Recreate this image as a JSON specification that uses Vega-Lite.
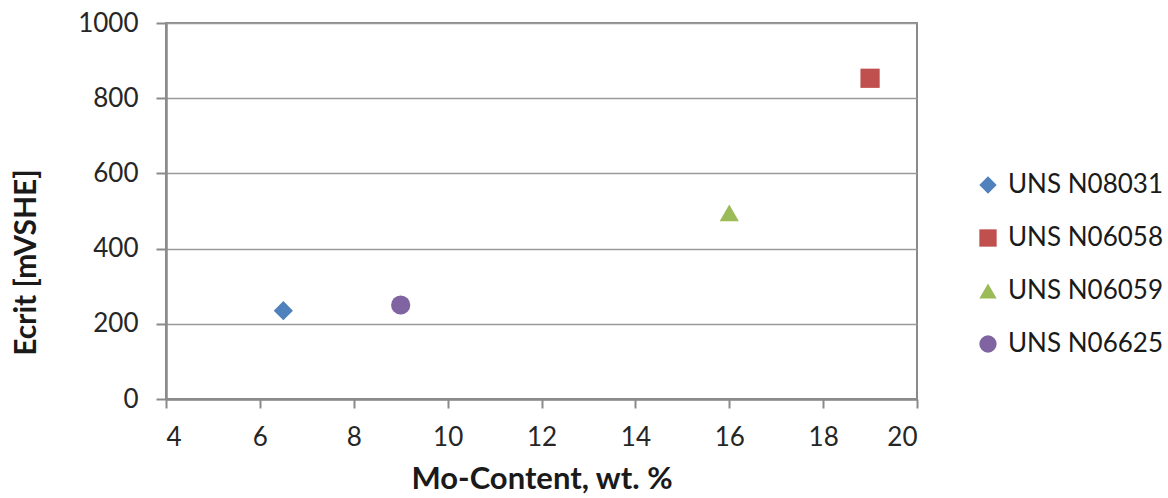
{
  "$schema": "https://vega.github.io/schema/vega-lite/v6.json",
  "width": 751,
  "height": 376,
  "autosize": {"type": "none"},
  "padding": {"left": 166, "top": 23, "right": 251, "bottom": 99},
  "background": "white",
  "config": {
    "font": "Lato",
    "view": {"stroke": "#8a8a8a", "strokeWidth": 2},
    "axis": {
      "labelFont": "Lato",
      "labelFontSize": 26,
      "labelColor": "#262626",
      "titleFont": "Lato",
      "titleFontSize": 30,
      "titleFontWeight": "bold",
      "titleColor": "#1a1a1a",
      "domainColor": "#8a8a8a",
      "domainWidth": 2.5,
      "tickColor": "#8a8a8a",
      "tickWidth": 2,
      "gridColor": "#9a9a9a",
      "gridWidth": 1.6
    },
    "legend": {
      "labelFont": "Lato",
      "labelFontSize": 26,
      "labelColor": "#1a1a1a"
    }
  },
  "data": {
    "values": [
      {"alloy": "UNS N08031", "mo": 6.5, "ecrit": 235},
      {"alloy": "UNS N06058", "mo": 19, "ecrit": 853},
      {"alloy": "UNS N06059", "mo": 16, "ecrit": 495},
      {"alloy": "UNS N06625", "mo": 9, "ecrit": 250}
    ]
  },
  "mark": {"type": "point", "filled": true, "opacity": 1, "size": 370},
  "encoding": {
    "x": {
      "field": "mo",
      "type": "quantitative",
      "scale": {"domain": [4, 20], "nice": false, "zero": false},
      "axis": {
        "title": "Mo-Content, wt. %",
        "titleFontSize": 31,
        "values": [4, 6, 8, 10, 12, 14, 16, 18, 20],
        "format": "d",
        "grid": false,
        "tickSize": 9,
        "labelPadding": 16,
        "titlePadding": 14
      }
    },
    "y": {
      "field": "ecrit",
      "type": "quantitative",
      "scale": {"domain": [0, 1000], "nice": false},
      "axis": {
        "title": "Ecrit [mVSHE]",
        "values": [0, 200, 400, 600, 800, 1000],
        "format": "d",
        "tickSize": 10,
        "labelPadding": 18,
        "titlePadding": 36,
        "titleY": 239
      }
    },
    "color": {
      "field": "alloy",
      "type": "nominal",
      "scale": {
        "domain": ["UNS N08031", "UNS N06058", "UNS N06059", "UNS N06625"],
        "range": ["#4F81BD", "#C0504D", "#9BBB59", "#8064A2"]
      },
      "legend": {
        "title": null,
        "orient": "none",
        "legendX": 809,
        "legendY": 149,
        "rowPadding": 27,
        "symbolSize": 300,
        "labelOffset": 7
      }
    },
    "shape": {
      "field": "alloy",
      "type": "nominal",
      "scale": {
        "domain": ["UNS N08031", "UNS N06058", "UNS N06059", "UNS N06625"],
        "range": ["diamond", "square", "triangle-up", "circle"]
      },
      "legend": null
    }
  }
}
